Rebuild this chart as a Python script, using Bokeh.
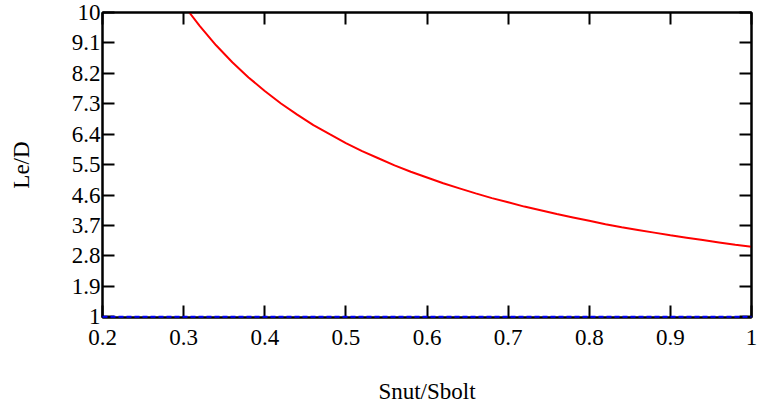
from bokeh.plotting import figure
from bokeh.models import Range1d, FixedTicker, LinearAxis, CustomJSTickFormatter
from bokeh.embed import file_html
from bokeh.resources import INLINE

# data
ratio = [0.307, 0.32, 0.34, 0.36, 0.38, 0.40, 0.42, 0.44, 0.46, 0.48, 0.50,
         0.52, 0.54, 0.56, 0.58, 0.60, 0.62, 0.64, 0.66, 0.68, 0.70, 0.72,
         0.74, 0.76, 0.78, 0.80, 0.82, 0.84, 0.86, 0.88, 0.90, 0.92, 0.94,
         0.96, 0.98, 1.00]
le_d = [10.0, 9.60, 9.03, 8.53, 8.08, 7.68, 7.31, 6.98, 6.67, 6.40, 6.14,
        5.90, 5.69, 5.48, 5.29, 5.12, 4.95, 4.80, 4.65, 4.51, 4.39, 4.26,
        4.15, 4.04, 3.94, 3.84, 3.74, 3.65, 3.57, 3.49, 3.41, 3.34, 3.27,
        3.20, 3.13, 3.07]
base_x = [0.2, 1.0]
base_y = [1.0, 1.0]

x_ticks = [0.2, 0.3, 0.4, 0.5, 0.6, 0.7, 0.8, 0.9, 1.0]
x_labels = ["0.2", "0.3", "0.4", "0.5", "0.6", "0.7", "0.8", "0.9", "1"]
y_ticks = [1.0, 1.9, 2.8, 3.7, 4.6, 5.5, 6.4, 7.3, 8.2, 9.1, 10.0]
y_labels = ["1", "1.9", "2.8", "3.7", "4.6", "5.5", "6.4", "7.3", "8.2", "9.1", "10"]

FONT = "Liberation Serif"
FS = "23px"

p = figure(width=765, height=408, output_backend="svg", toolbar_location=None,
           x_range=Range1d(0.2, 1.0), y_range=Range1d(0.98, 10.0),
           x_axis_label="Snut/Sbolt", y_axis_label="Le/D",
           min_border_left=102, min_border_right=14,
           min_border_top=12, min_border_bottom=91)
p.grid.visible = False
p.outline_line_color = "black"
p.outline_line_width = 2
p.background_fill_color = "white"
p.border_fill_color = "white"

p.xaxis.ticker = FixedTicker(ticks=x_ticks)
p.yaxis.ticker = FixedTicker(ticks=y_ticks)
p.xaxis.major_label_overrides = {t: l for t, l in zip(x_ticks, x_labels)}
p.yaxis.major_label_overrides = {t: l for t, l in zip(y_ticks, y_labels)}

for ax in (p.xaxis, p.yaxis):
    ax.axis_line_color = "black"
    ax.axis_line_width = 2
    ax.major_tick_in = 12
    ax.major_tick_out = 0
    ax.major_tick_line_width = 2
    ax.major_tick_line_color = "black"
    ax.minor_tick_line_color = None
    ax.major_label_text_font = FONT
    ax.major_label_text_font_size = FS
    ax.major_label_text_color = "black"
    ax.axis_label_text_font = FONT
    ax.axis_label_text_font_size = FS
    ax.axis_label_text_font_style = "normal"
    ax.axis_label_text_color = "black"

p.yaxis.major_label_standoff = 2
p.yaxis.axis_label_standoff = 35
p.xaxis.major_label_standoff = 12
p.xaxis.axis_label_standoff = 31

# mirrored ticks on top and right (no labels)
blank = CustomJSTickFormatter(code="return '';")
top = LinearAxis(ticker=FixedTicker(ticks=x_ticks), formatter=blank,
                 major_tick_in=12, major_tick_out=0, major_tick_line_width=2,
                 minor_tick_line_color=None, axis_line_width=2, major_label_standoff=0)
right = LinearAxis(ticker=FixedTicker(ticks=y_ticks), formatter=blank,
                   major_tick_in=12, major_tick_out=0, major_tick_line_width=2,
                   minor_tick_line_color=None, axis_line_width=2, major_label_standoff=0)
p.add_layout(top, "above")
p.add_layout(right, "right")

p.line(ratio, le_d, line_color="red", line_width=2)
p.line(base_x, base_y, line_color="blue", line_width=2, line_dash="5 3", level="overlay")

open("out.html", "w").write(file_html(p, INLINE))
